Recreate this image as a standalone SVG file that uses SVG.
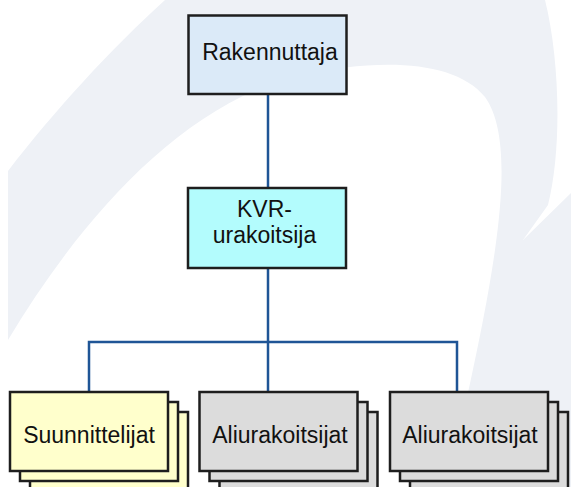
<svg xmlns="http://www.w3.org/2000/svg" width="571" height="487" viewBox="0 0 571 487">
<style>
.box{stroke:#1e1e1e;stroke-width:2.5}
.blue{fill:#dbeaf8}
.cyan{fill:#b3fcfd}
.yellow{fill:#ffffcc}
.gray{fill:#dcdcdc}
.lbl{font-family:"Liberation Sans",Arial,sans-serif;font-size:23px;fill:#111;text-anchor:middle}
.conn{stroke:#1f5596;stroke-width:2.5;fill:none}
</style>
<rect width="571" height="487" fill="#ffffff"/>
<path d="M 8,171 C 55,110 110,50 165,0 L 545,0 C 560,60 562,150 548,205 L 523,240 L 571,193 L 571,487 L 450,487 C 460,420 482,340 495,250 C 505,180 505,125 485,97 C 455,60 380,58 300,75 C 180,105 80,220 8,340 Z" fill="#eef1f6"/>
<g id="connectors">
<line class="conn" x1="268" y1="94" x2="268" y2="188"/>
<line class="conn" x1="268" y1="268" x2="268" y2="392"/>
<polyline class="conn" points="89,392 89,342 457,342 457,392"/>
</g>
<g id="rakennuttaja">
<rect class="box blue" x="188.5" y="15.5" width="158" height="78.5"/>
<text class="lbl" x="270" y="60">Rakennuttaja</text>
</g>
<g id="kvr">
<rect class="box cyan" x="188" y="188" width="158" height="80"/>
<text class="lbl" x="264.5" y="217">KVR-</text>
<text class="lbl" x="264.5" y="243">urakoitsija</text>
</g>
<g id="suunnittelijat">
<rect class="box yellow" x="30" y="412" width="158" height="79"/>
<rect class="box yellow" x="20" y="402" width="158" height="79"/>
<rect class="box yellow" x="10" y="392" width="158" height="79"/>
<text class="lbl" x="89" y="443">Suunnittelijat</text>
</g>
<g id="aliurakoitsijat1">
<rect class="box gray" x="219.5" y="412" width="158" height="79"/>
<rect class="box gray" x="209.5" y="402" width="158" height="79"/>
<rect class="box gray" x="199.5" y="392" width="158" height="79"/>
<text class="lbl" x="280" y="443">Aliurakoitsijat</text>
</g>
<g id="aliurakoitsijat2">
<rect class="box gray" x="410" y="412" width="158" height="79"/>
<rect class="box gray" x="400" y="402" width="158" height="79"/>
<rect class="box gray" x="390" y="392" width="158" height="79"/>
<text class="lbl" x="470" y="443">Aliurakoitsijat</text>
</g>
</svg>
